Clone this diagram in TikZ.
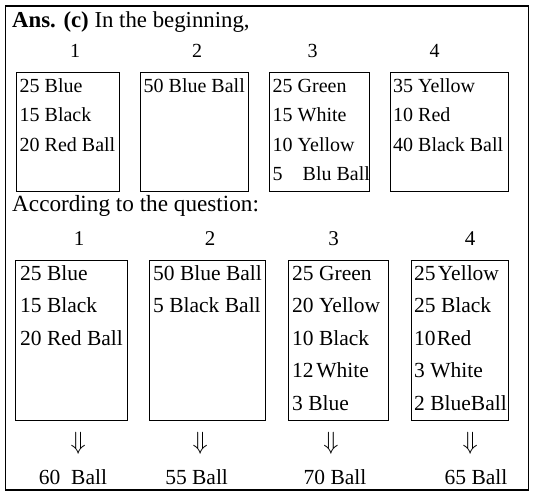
\documentclass[tikz,border=0pt]{standalone}
\usepackage{fontspec}
\setmainfont{Liberation Serif}
\begin{document}
\begin{tikzpicture}[x=1pt,y=-1pt,
  bx/.style={draw, line width=0.9pt, inner sep=0pt, outer sep=0pt, anchor=north west},
  tA/.style={anchor=base west, inner sep=0pt, font=\fontsize{20}{24}\selectfont},
  tB/.style={anchor=base west, inner sep=0pt, font=\fontsize{21.5}{26}\selectfont},
  hdA/.style={anchor=base, inner sep=0pt, font=\fontsize{20}{24}\selectfont},
  hdB/.style={anchor=base, inner sep=0pt, font=\fontsize{21}{26}\selectfont},
  ttl/.style={anchor=base west, inner sep=0pt, font=\fontsize{22.8}{26}\selectfont},
  ttlb/.style={anchor=base west, inner sep=0pt, font=\fontsize{23.2}{26}\selectfont},
  arr/.style={anchor=center, inner sep=0pt, font=\fontsize{27}{30}\selectfont},
  tot/.style={anchor=base, inner sep=0pt, font=\fontsize{21.5}{26}\selectfont}]
\useasboundingbox (0,0) rectangle (534,494);
\node[draw, line width=1.3pt, inner sep=0pt, outer sep=0pt, anchor=north west,
      minimum width=522.9pt, minimum height=484pt] (frame) at (5.4,6) {};
% title
\node[ttl] (title) at (12,28) {\textbf{Ans. (c)} In the beginning,};
% row 1 headings
\node[hdA] (h11) at (75,58) {1};
\node[hdA] (h12) at (197,58) {2};
\node[hdA] (h13) at (312.5,58) {3};
\node[hdA] (h14) at (434.5,58) {4};
% row 1 boxes
\node[bx, minimum width=103pt, minimum height=118.5pt] (b11) at (16,72.5) {};
\node[bx, minimum width=107.5pt, minimum height=118.5pt] (b12) at (140.5,72.5) {};
\node[bx, minimum width=99.5pt, minimum height=118.5pt] (b13) at (269.5,72.5) {};
\node[bx, minimum width=118pt, minimum height=118.5pt] (b14) at (390.5,72.5) {};
% row 1 texts
\node[tA] (a1) at (19.5,92.5) {25 Blue};
\node[tA] (a2) at (19.5,122) {15 Black};
\node[tA] (a3) at (19.5,151.5) {20 Red Ball};
\node[tA] (a4) at (143.5,92.5) {50 Blue Ball};
\node[tA] (a5) at (272.5,92.5) {25 Green};
\node[tA] (a6) at (272.5,122) {15 White};
\node[tA] (a7) at (272.5,151.5) {10 Yellow};
\node[tA] (a8) at (272.5,181) {5\hspace{20pt}Blu Ball};
\node[tA] (a9) at (393,92.5) {35 Yellow};
\node[tA] (a10) at (393,122) {10 Red};
\node[tA] (a11) at (393,151.5) {40 Black Ball};
% second title
\node[ttlb] (title2) at (12,211) {According to the question:};
% row 2 headings
\node[hdB] (h21) at (79,245) {1};
\node[hdB] (h22) at (210,245) {2};
\node[hdB] (h23) at (333.7,245) {3};
\node[hdB] (h24) at (470,245) {4};
% row 2 boxes
\node[bx, minimum width=111.3pt, minimum height=160pt] (b21) at (15.7,260) {};
\node[bx, minimum width=115.5pt, minimum height=160pt] (b22) at (149.5,260) {};
\node[bx, minimum width=100pt, minimum height=160pt] (b23) at (288.3,260) {};
\node[bx, minimum width=96.8pt, minimum height=160pt] (b24) at (411.2,260) {};
% row 2 texts
\node[tB] (c1) at (20,280) {25 Blue};
\node[tB] (c2) at (20,312.5) {15 Black};
\node[tB] (c3) at (20,345) {20 Red Ball};
\node[tB] (c4) at (153,280) {50 Blue Ball};
\node[tB] (c5) at (153,312.5) {5 Black Ball};
\node[tB] (c6) at (292,280) {25 Green};
\node[tB] (c7) at (292,312.5) {20 Yellow};
\node[tB] (c8) at (292,345) {10 Black};
\node[tB] (c9) at (292,377.5) {12\hspace{0.12em}White};
\node[tB] (c10) at (292,410) {3 Blue};
\node[tB] (c11) at (414,280) {25\hspace{0.1em}Yellow};
\node[tB] (c12) at (414,312.5) {25 Black};
\node[tB] (c13) at (414,345) {10\hspace{0.05em}Red};
\node[tB] (c14) at (414,377.5) {3 White};
\node[tB] (c15) at (414,410) {2 BlueBall};
% arrows
\node[arr] (d1) at (78.3,443) {$\Downarrow$};
\node[arr] (d2) at (200.2,443) {$\Downarrow$};
\node[arr] (d3) at (331,443) {$\Downarrow$};
\node[arr] (d4) at (470.2,443) {$\Downarrow$};
% totals
\node[tot] (s1) at (73,484) {60\ \ Ball};
\node[tot] (s2) at (196.6,484) {55 Ball};
\node[tot] (s3) at (335,484) {70 Ball};
\node[tot] (s4) at (476,484) {65 Ball};
\end{tikzpicture}
\end{document}
